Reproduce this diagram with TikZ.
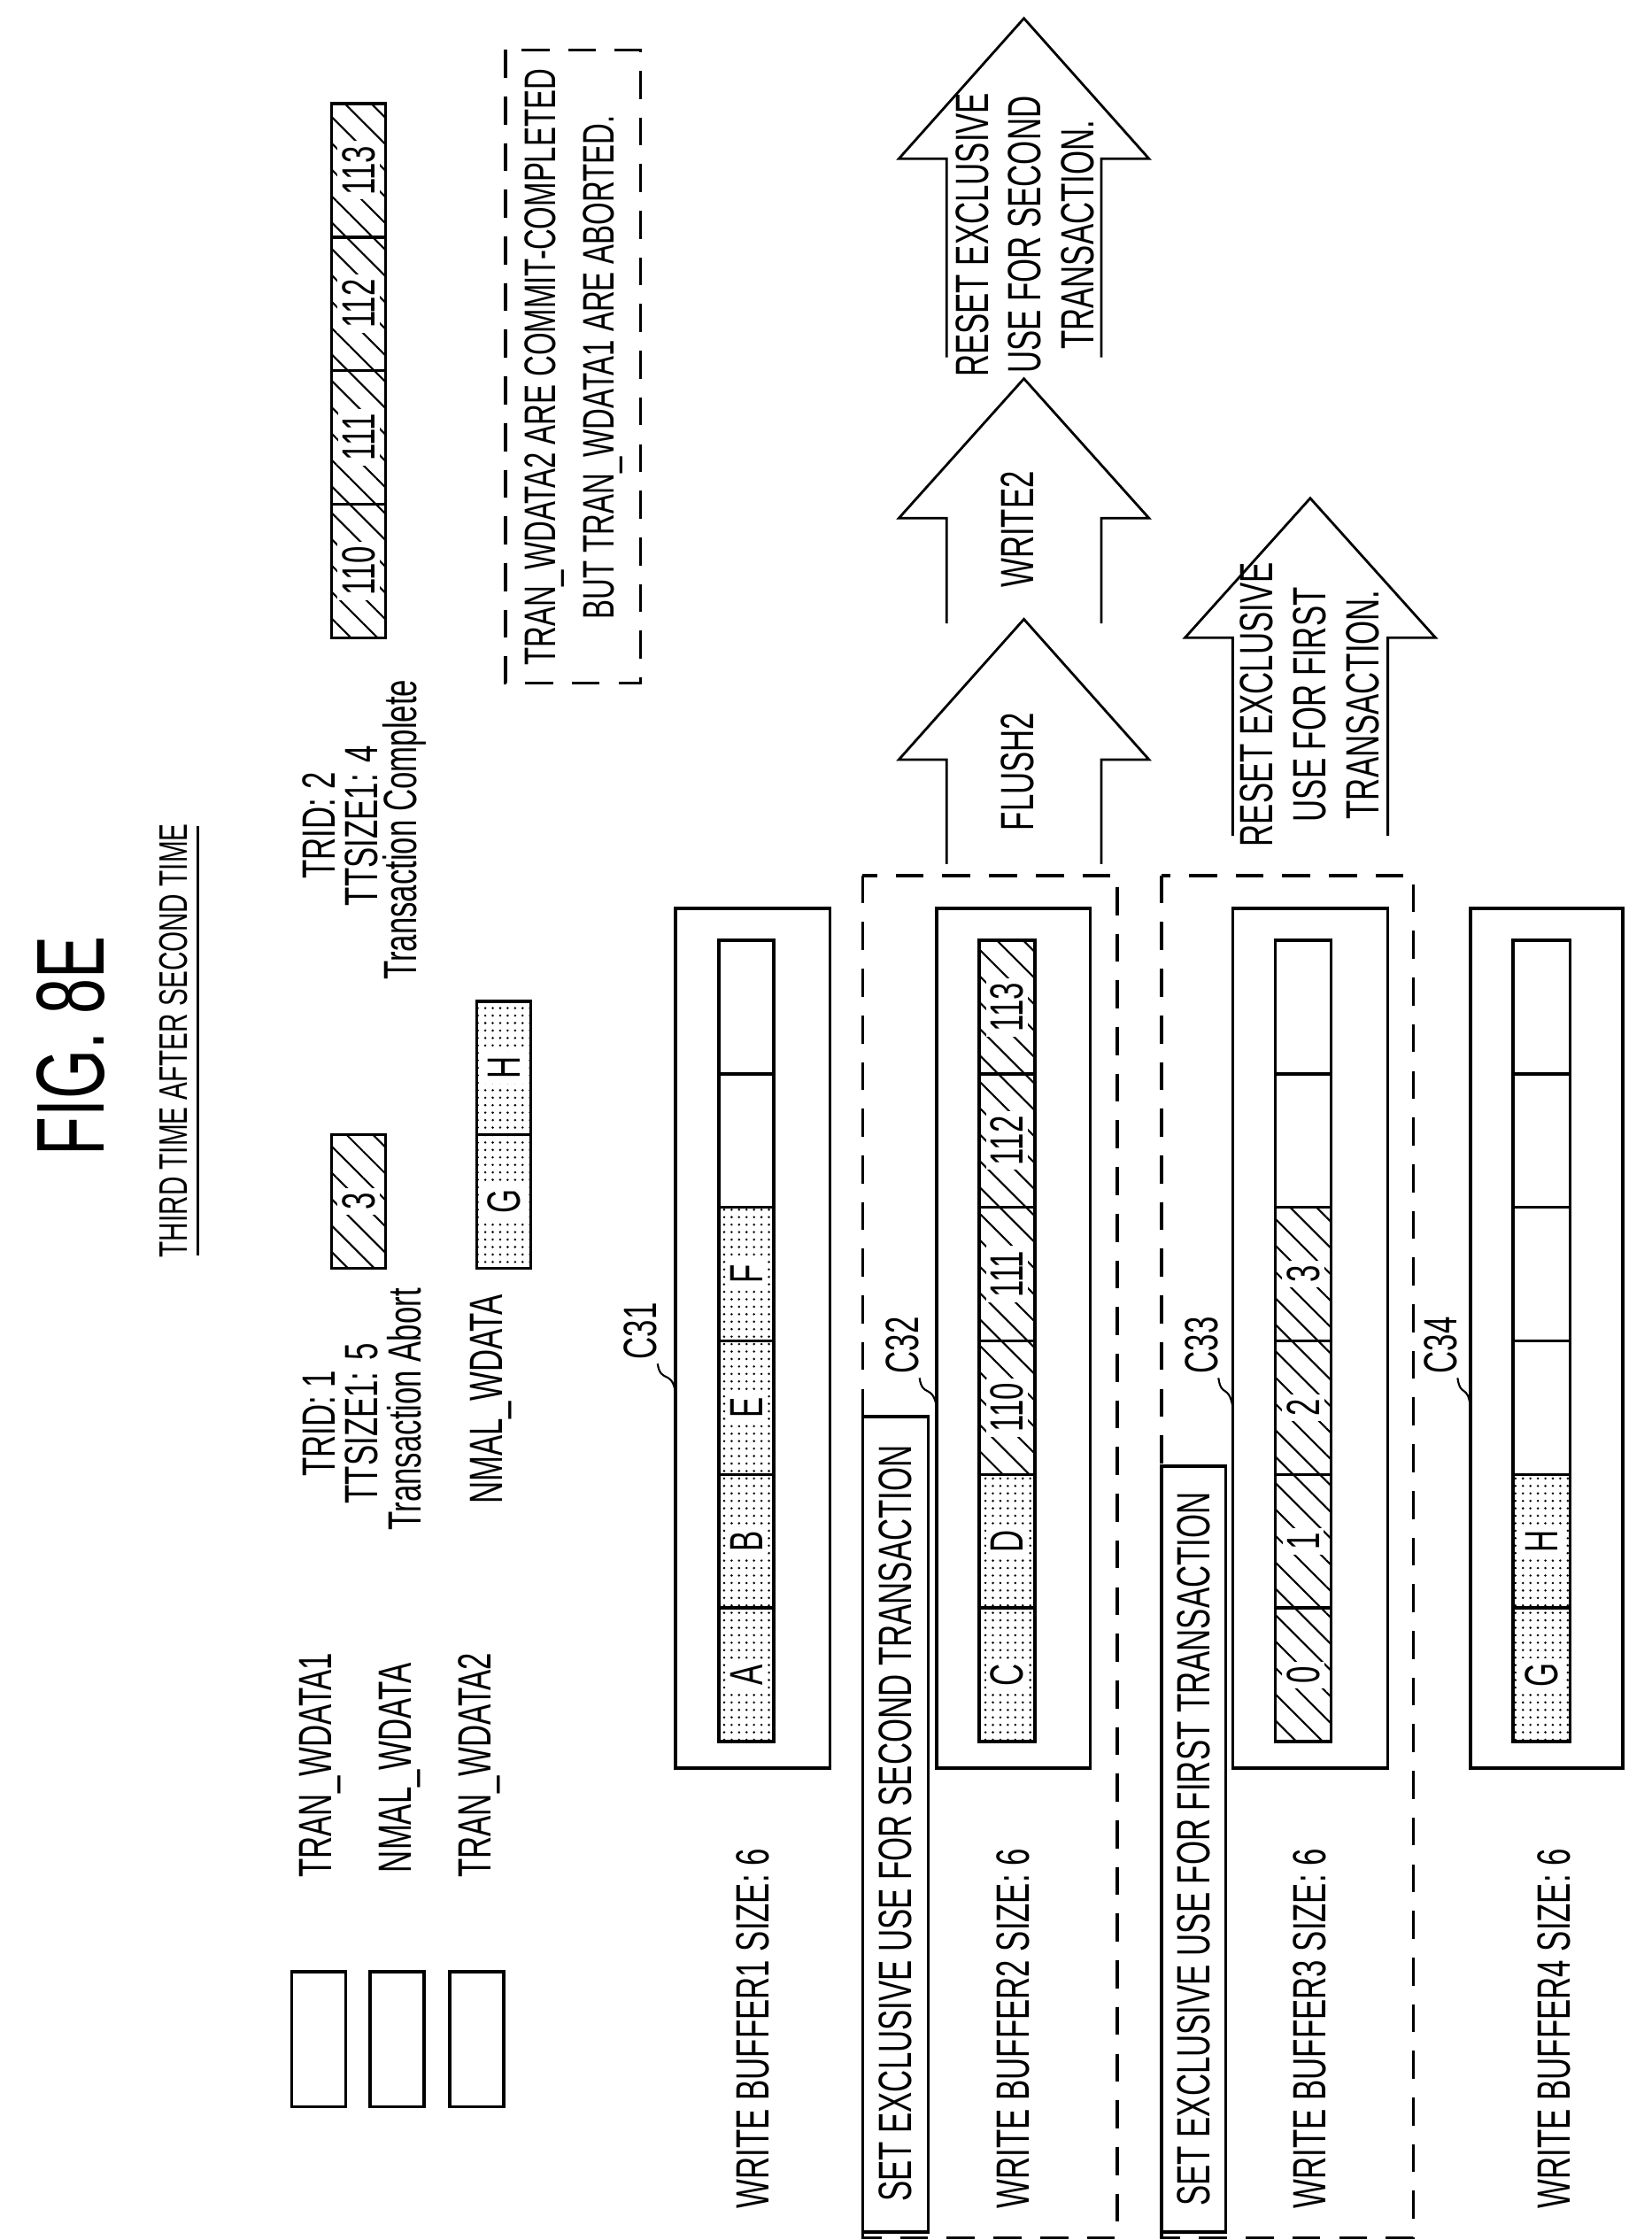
\documentclass[tikz,border=0pt]{standalone}
\usepackage{fontspec}
\setmainfont{Liberation Sans}[FakeStretch=0.66]
\usetikzlibrary{patterns.meta}
\begin{document}
\begin{tikzpicture}[x=0.016078cm,y=-0.016078cm,line width=1pt,
  txt/.style={rotate=90,inner sep=0pt,font=\fontsize{15}{16}\selectfont},
  lbl/.style={txt,fill=white,inner sep=1.5pt},
  hatch/.style={draw,pattern={Lines[angle=-45,distance=6pt,line width=0.6pt]}},
  dots/.style={draw,pattern={Dots[distance=2.4pt,radius=0.4pt]}},
  dbox/.style={draw,dash pattern=on 9pt off 6pt}]
\useasboundingbox (0,0) rectangle (1160,1573.6);
\newcommand\mycell[6]{\draw[#5] (#2,#4) rectangle (#3,#4-93.8);
  \node[lbl] (#1) at ({(#2+#3)/2},#4-46.9) {#6};}
\newcommand\ecell[3]{\draw (#1,#3) rectangle (#2,#3-93.8);}
\newcommand\blockarrow[5]{\draw (#1,#3) -- (#1,#4) -- (#1-33.5,#4) -- ({(#1+#2)/2},#5) -- (#2+33.5,#4) -- (#2,#4) -- (#2,#3);}
% title
\node[txt,font=\fontsize{31}{34}\selectfont] (fig) at (50,735) {FIG. 8E};
\node[txt,font=\fontsize{12.8}{15}\selectfont] (third) at (122,731) {THIRD TIME AFTER SECOND TIME};
\draw (139,580) -- (139,882);
% legend
\draw (205,1385) rectangle (243,1480);
\draw (260,1385) rectangle (298,1480);
\draw (316,1385) rectangle (354,1480);
\node[txt] (l1) at (225,1240) {TRAN\_WDATA1};
\node[txt] (l2) at (281,1242) {NMAL\_WDATA};
\node[txt] (l3) at (337,1240) {TRAN\_WDATA2};
% transaction 1
\node[txt] (t1a) at (224,1000) {TRID: 1};
\node[txt] (t1b) at (254,1000) {TTSIZE1: 5};
\node[txt] (t1c) at (284,990) {Transaction Abort};
\mycell{c3}{233}{271}{891}{hatch}{3}
\node[txt] (nm) at (345,983) {NMAL\_WDATA};
\mycell{cg}{335}{373}{891}{dots}{G}
\mycell{ch}{335}{373}{797.2}{dots}{H}
% transaction 2
\node[txt] (t2a) at (224,580) {TRID: 2};
\node[txt] (t2b) at (254,580) {TTSIZE1: 4};
\node[txt] (t2c) at (284,583) {Transaction Complete};
\mycell{t110}{233}{271}{448}{hatch}{110}
\mycell{t111}{233}{271}{354.2}{hatch}{111}
\mycell{t112}{233}{271}{260.4}{hatch}{112}
\mycell{t113}{233}{271}{166.6}{hatch}{113}
\draw[dbox] (355,35) rectangle (450,480);
\node[txt,align=center,font=\fontsize{14.2}{16}\selectfont] (note) at (403,258) {TRAN\_WDATA2 ARE COMMIT-COMPLETED\\[3pt]BUT TRAN\_WDATA1 ARE ABORTED.};
% buffer 1
\draw (474.5,638) rectangle (583,1242);
\mycell{a}{505}{543.6}{1223.4}{dots}{A}
\mycell{b}{505}{543.6}{1129.6}{dots}{B}
\mycell{e}{505}{543.6}{1035.8}{dots}{E}
\mycell{f}{505}{543.6}{942}{dots}{F}
\ecell{505}{543.6}{848.2}\ecell{505}{543.6}{754.4}
\node[txt] (w1) at (529,1425) {WRITE BUFFER1 SIZE: 6};
\node[txt] (c31) at (450,935) {C31};
\draw[line width=0.6pt] (462,958) .. controls (464,972) and (472,962) .. (474.5,978);
% buffer 2
\draw[dbox] (606,615) rectangle (785,1572);
\draw (606,995) rectangle (652,1568);
\node[txt] (s2) at (629,1281) {SET EXCLUSIVE USE FOR SECOND TRANSACTION};
\draw (658,638) rectangle (766,1242);
\mycell{cc}{688}{727}{1223.4}{dots}{C}
\mycell{d}{688}{727}{1129.6}{dots}{D}
\mycell{b110}{688}{727}{1035.8}{hatch}{110}
\mycell{b111}{688}{727}{942}{hatch}{111}
\mycell{b112}{688}{727}{848.2}{hatch}{112}
\mycell{b113}{688}{727}{754.4}{hatch}{113}
\node[txt] (w2) at (712,1425) {WRITE BUFFER2 SIZE: 6};
\node[txt] (c32) at (634,945) {C32};
\draw[line width=0.6pt] (646,968) .. controls (648,982) and (655,972) .. (658,988);
% buffer 3
\draw[dbox] (816,615) rectangle (993,1572);
\draw (816,1030) rectangle (861,1568);
\node[txt] (s3) at (838.5,1299) {SET EXCLUSIVE USE FOR FIRST TRANSACTION};
\draw (866,638) rectangle (975,1242);
\mycell{z0}{896}{935}{1223.4}{hatch}{0}
\mycell{z1}{896}{935}{1129.6}{hatch}{1}
\mycell{z2}{896}{935}{1035.8}{hatch}{2}
\mycell{z3}{896}{935}{942}{hatch}{3}
\ecell{896}{935}{848.2}\ecell{896}{935}{754.4}
\node[txt] (w3) at (920,1425) {WRITE BUFFER3 SIZE: 6};
\node[txt] (c33) at (844,945) {C33};
\draw[line width=0.6pt] (856,968) .. controls (858,982) and (863,972) .. (866,988);
% buffer 4
\draw (1033,638) rectangle (1140,1242);
\mycell{g}{1063}{1103}{1223.4}{dots}{G}
\mycell{h}{1063}{1103}{1129.6}{dots}{H}
\ecell{1063}{1103}{1035.8}\ecell{1063}{1103}{942}\ecell{1063}{1103}{848.2}\ecell{1063}{1103}{754.4}
\node[txt] (w4) at (1092,1425) {WRITE BUFFER4 SIZE: 6};
\node[txt] (c34) at (1012,945) {C34};
\draw[line width=0.6pt] (1024,968) .. controls (1026,982) and (1031,972) .. (1033,988);
% arrows
\begin{scope}[line width=0.8pt]
\blockarrow{665}{773.7}{607}{533.6}{435}
\blockarrow{665}{773.7}{438}{364}{266}
\blockarrow{665}{773.7}{251}{111.5}{12.9}
\blockarrow{866}{975}{587}{448}{350}
\end{scope}
\node[txt] (fl) at (715,542) {FLUSH2};
\node[txt] (wr) at (715,372) {WRITE2};
\node[txt,align=center] (r2) at (720,165) {RESET EXCLUSIVE\\[1pt]USE FOR SECOND\\[1pt]TRANSACTION.};
\node[txt,align=center] (r1) at (920,495) {RESET EXCLUSIVE\\[1pt]USE FOR FIRST\\[1pt]TRANSACTION.};
\end{tikzpicture}
\end{document}
